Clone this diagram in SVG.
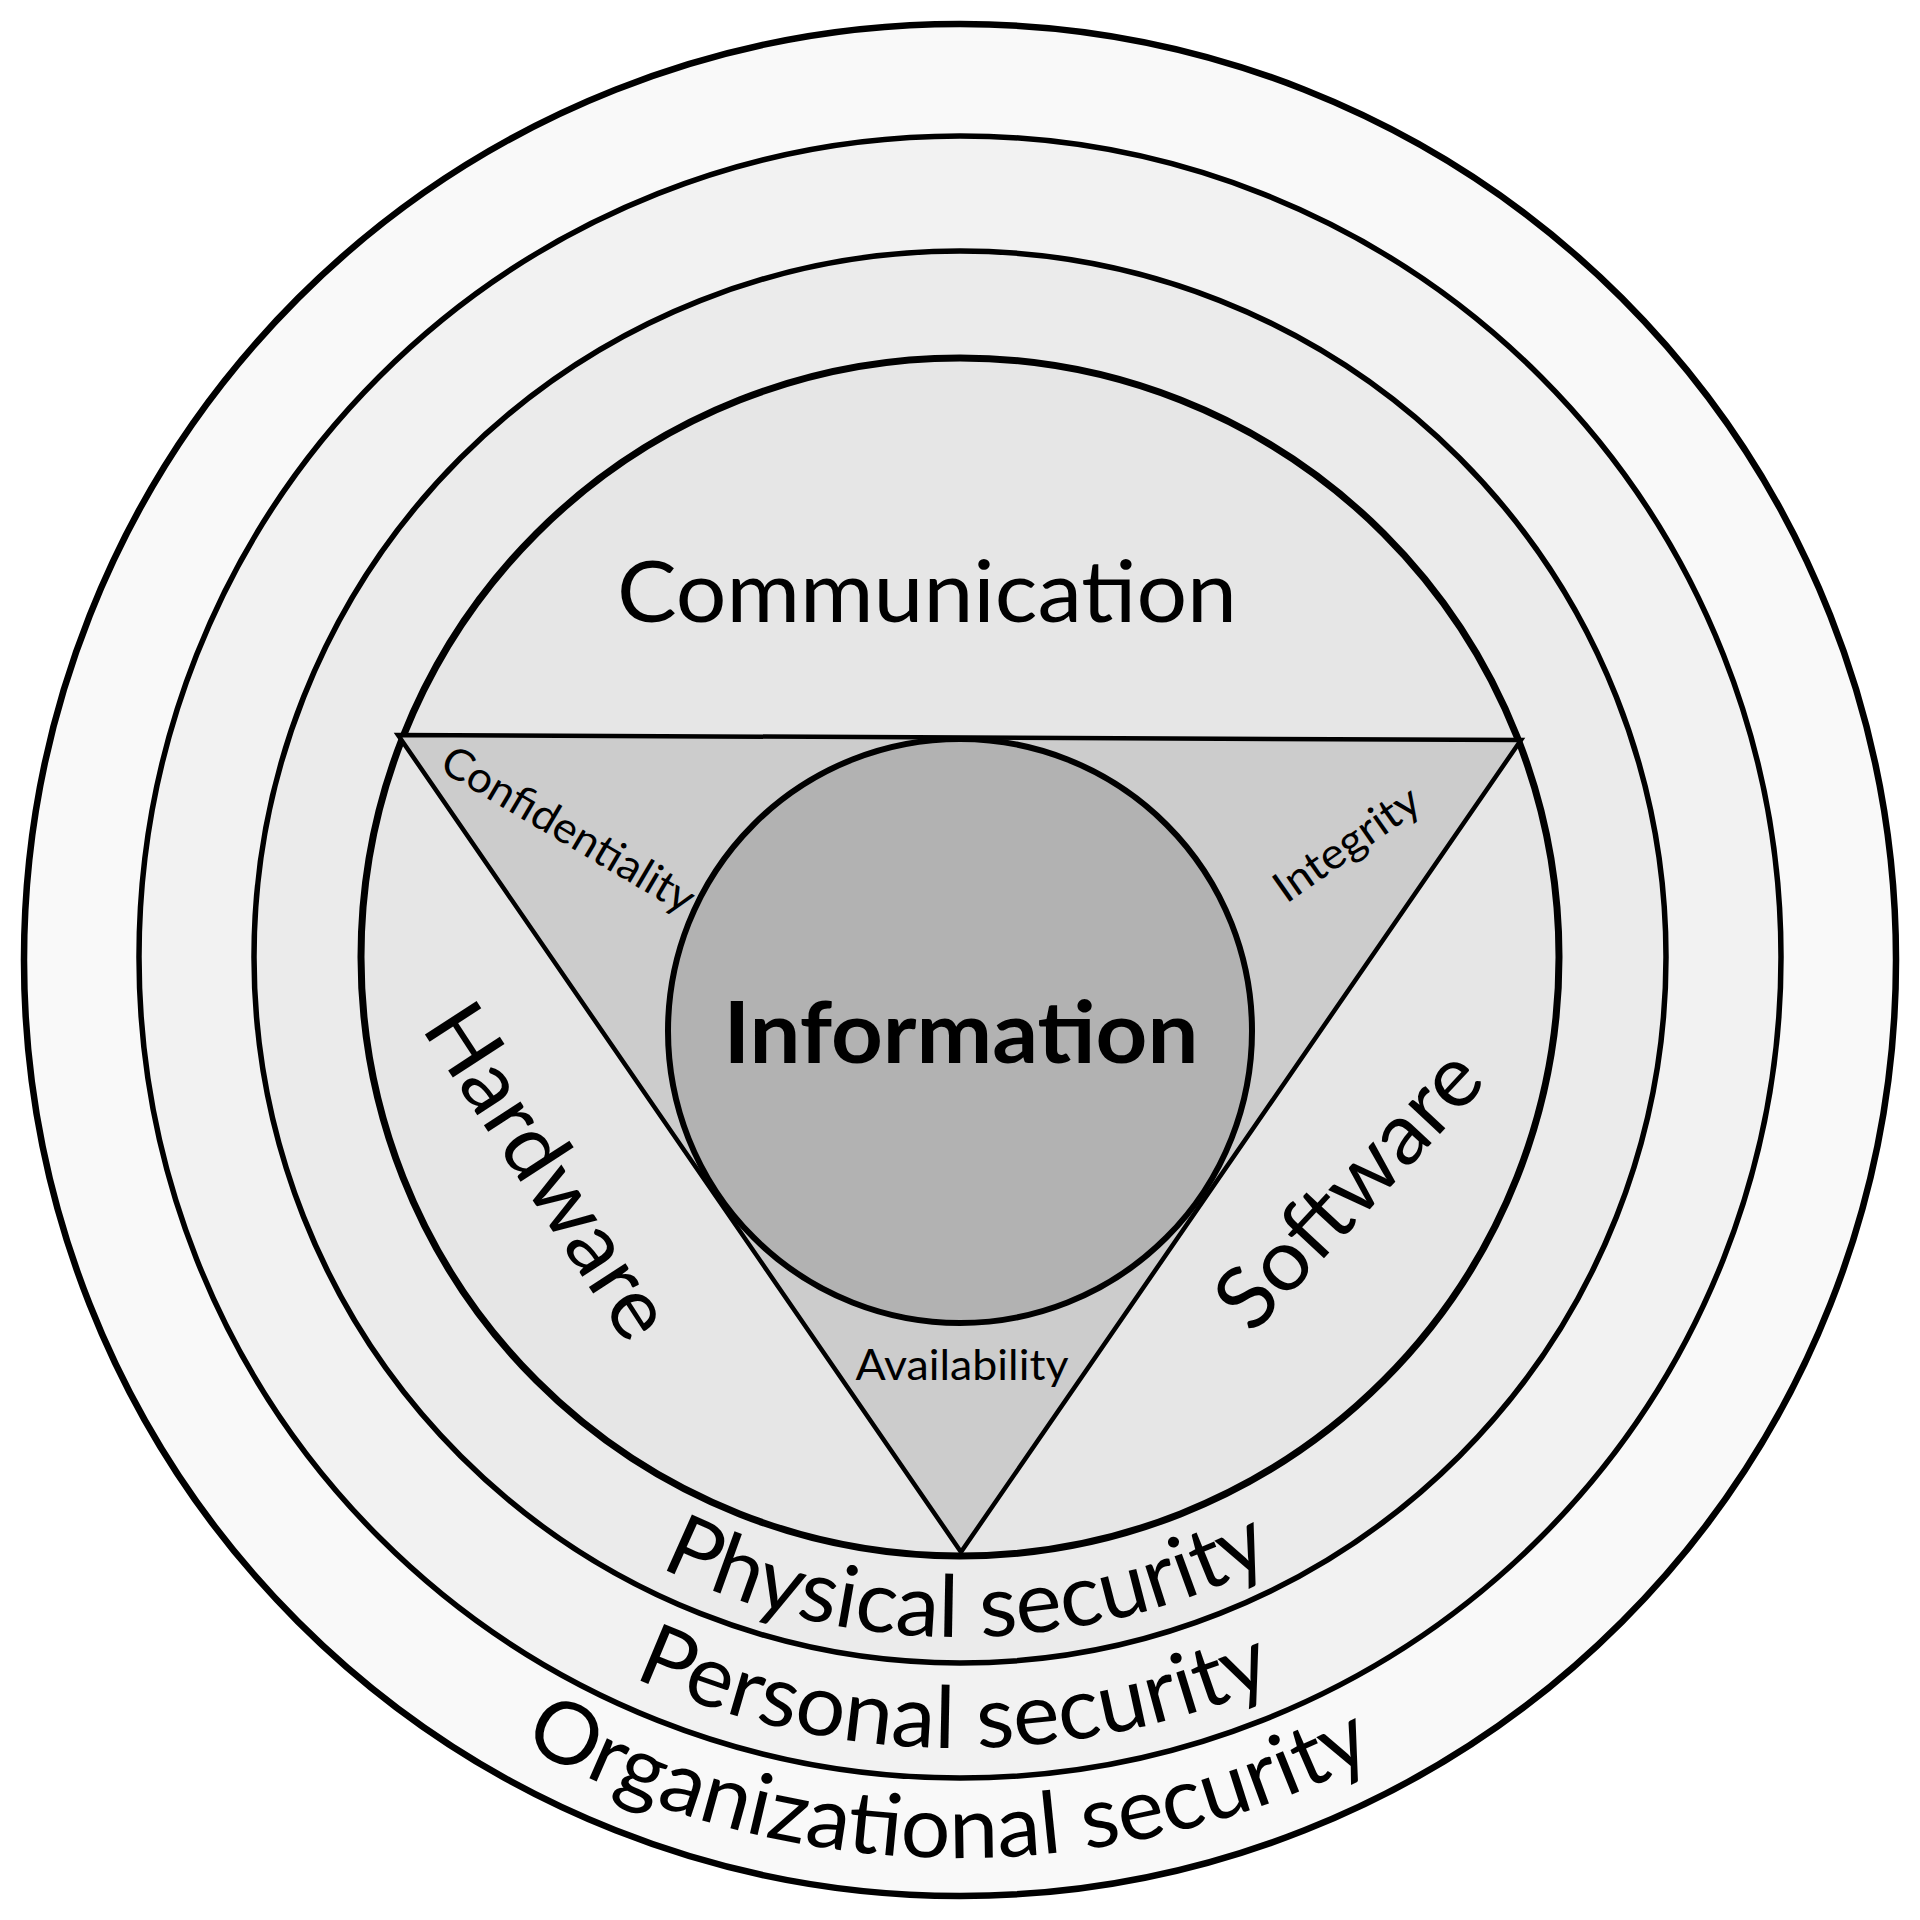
<svg xmlns="http://www.w3.org/2000/svg" width="1920" height="1920" viewBox="0 0 1920 1920">
<style>
  .ring { stroke: #000; }
  .lbl { font-family: Lato, "Open Sans", "Liberation Sans", sans-serif; fill: #000; }
  .big { font-size: 86px; }
  .small { font-size: 43px; }
  .arc { font-size: 86px; }
  .bold { font-weight: bold; }
</style>
<defs>
  <path id="arcPhysical" d="M 280 957 A 680 680 0 0 0 1640 957"/>
  <path id="arcPersonal" d="M 169 957 A 791 791 0 0 0 1751 957"/>
  <path id="arcOrganizational" d="M 59 957 A 901 901 0 0 0 1861 957"/>
</defs>
<rect width="1920" height="1920" fill="#ffffff"/>
<g id="organizational">
  <circle class="ring" cx="960" cy="960" r="936" fill="#f9f9f9" stroke-width="6.5"/>
  <text class="lbl arc"><textPath href="#arcOrganizational" startOffset="1402" text-anchor="middle" textLength="889" lengthAdjust="spacingAndGlyphs">Organizational security</textPath></text>
</g>
<g id="personal">
  <circle class="ring" cx="960" cy="957" r="821" fill="#f2f2f2" stroke-width="5.5"/>
  <text class="lbl arc"><textPath href="#arcPersonal" startOffset="1236" text-anchor="middle" textLength="661" lengthAdjust="spacingAndGlyphs">Personal security</textPath></text>
</g>
<g id="physical">
  <circle class="ring" cx="960" cy="957" r="706" fill="#ebebeb" stroke-width="5.5"/>
  <text class="lbl arc"><textPath href="#arcPhysical" startOffset="1075" text-anchor="middle" textLength="636" lengthAdjust="spacingAndGlyphs">Physical security</textPath></text>
</g>
<g id="communication-hw-sw">
  <circle class="ring" cx="960" cy="957" r="599" fill="#e6e6e6" stroke-width="7"/>
  <text class="lbl big" x="927" y="622" text-anchor="middle" textLength="620" lengthAdjust="spacingAndGlyphs">Communication</text>
  <text class="lbl big" transform="translate(524 1187) rotate(57)" x="0" y="0" text-anchor="middle" textLength="380" lengthAdjust="spacingAndGlyphs">Hardware</text>
  <text class="lbl big" transform="translate(1370 1209) rotate(-47)" x="0" y="0" text-anchor="middle" textLength="346" lengthAdjust="spacingAndGlyphs">Software</text>
</g>
<g id="cia-triangle">
  <polygon points="398,735 1521,740 961,1552" fill="#cccccc" stroke="#000" stroke-width="4.5" stroke-linejoin="miter"/>
  <text class="lbl small" transform="translate(561 842) rotate(30.5)" x="0" y="0" text-anchor="middle" textLength="286" lengthAdjust="spacingAndGlyphs">Confidentiality</text>
  <text class="lbl small" transform="translate(1355 856) rotate(-35)" x="0" y="0" text-anchor="middle" textLength="168" lengthAdjust="spacingAndGlyphs">Integrity</text>
  <text class="lbl small" x="962" y="1380" text-anchor="middle" textLength="213" lengthAdjust="spacingAndGlyphs">Availability</text>
</g>
<g id="information">
  <circle class="ring" cx="960" cy="1031" r="292" fill="#b2b2b2" stroke-width="6"/>
  <text class="lbl big bold" x="961" y="1063" text-anchor="middle" textLength="475" lengthAdjust="spacingAndGlyphs">Information</text>
</g>
<g id="connectors"></g>
</svg>
